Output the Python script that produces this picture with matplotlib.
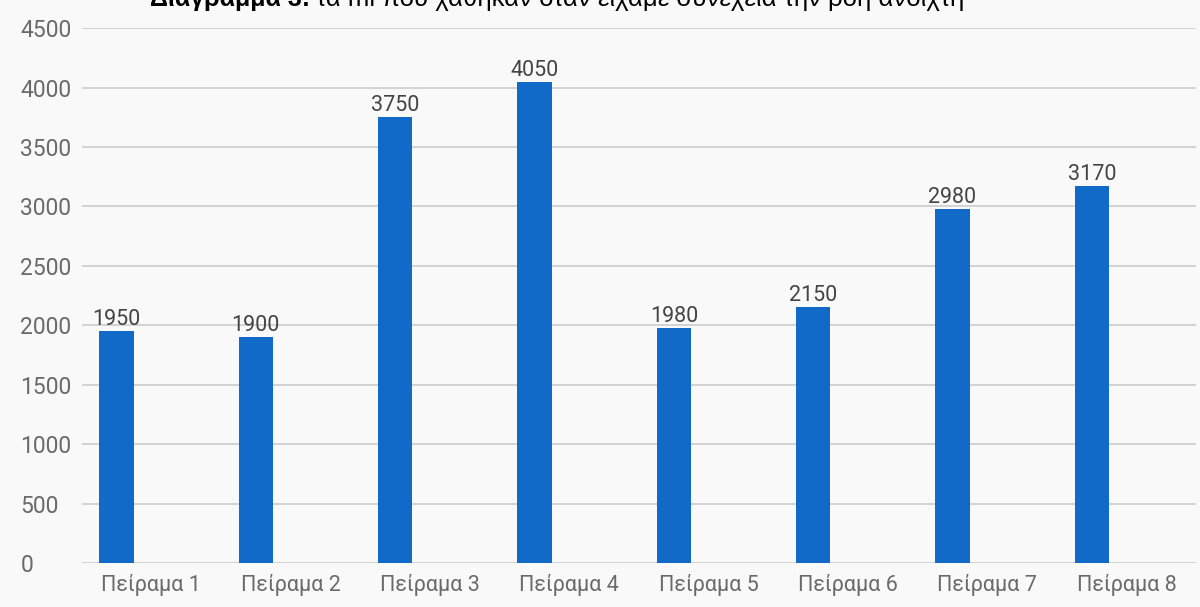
import matplotlib
matplotlib.use("Agg")
import matplotlib.pyplot as plt
import numpy as np

# Data
categories = ["Πείραμα 1", "Πείραμα 2", "Πείραμα 3", "Πείραμα 4",
              "Πείραμα 5", "Πείραμα 6", "Πείραμα 7", "Πείραμα 8"]
ml_lost = [1950, 1900, 3750, 4050, 1980, 2150, 2980, 3170]
y_ticks = [0, 500, 1000, 1500, 2000, 2500, 3000, 3500, 4000, 4500]
title_bold = "Διάγραμμα 3:"
title_rest = "τα ml που χάθηκαν όταν είχαμε συνέχεια την ροή ανοιχτή"

bar_color = "#1169c8"
bg = "#f9f9f9"

plt.rcParams["font.family"] = ["Roboto", "DejaVu Sans"]

fig = plt.figure(figsize=(12, 6.07), dpi=100, facecolor=bg)
ax = fig.add_axes([0.068, 0.0725, 0.929, 0.881], facecolor=bg)

x = np.arange(len(categories))
bars = ax.bar(x - 0.25, ml_lost, width=0.245, color=bar_color, zorder=3)

for b, v in zip(bars, ml_lost):
    ax.text(b.get_x() + b.get_width() / 2, v + 10, str(v),
            ha="center", va="bottom", fontsize=15.5, color="#444444", zorder=4)

ax.set_xlim(-0.5, len(categories) - 0.5)
ax.set_ylim(0, 4500)
ax.set_yticks(y_ticks)
ax.set_xticks(x)
ax.set_xticklabels(categories)
ax.grid(axis="y", color="#cccccc", linewidth=1.2, zorder=0)
# y labels are left-aligned in a column at the figure's left edge
ax.tick_params(axis="y", length=0, pad=44, labelsize=16.5, labelcolor="#6a6a6a")
for lbl in ax.get_yticklabels():
    lbl.set_horizontalalignment("left")
ax.tick_params(axis="x", length=0, pad=8, labelsize=15.5, labelcolor="#6a6a6a")
for s in ax.spines.values():
    s.set_visible(False)

# Title sits partly above the top edge
tfam = ["Liberation Sans", "DejaVu Sans"]
t1 = fig.text(150 / 1200, 1 - 6 / 607, title_bold, fontsize=18, fontweight="bold",
              family=tfam, ha="left", va="baseline")
fig.canvas.draw()
ext = t1.get_window_extent()
fig.text((ext.x1 + 6) / 1200, 1 - 6 / 607, title_rest, fontsize=18.5,
         family=tfam, ha="left", va="baseline")

fig.savefig("out.png", dpi=100, facecolor=bg)
